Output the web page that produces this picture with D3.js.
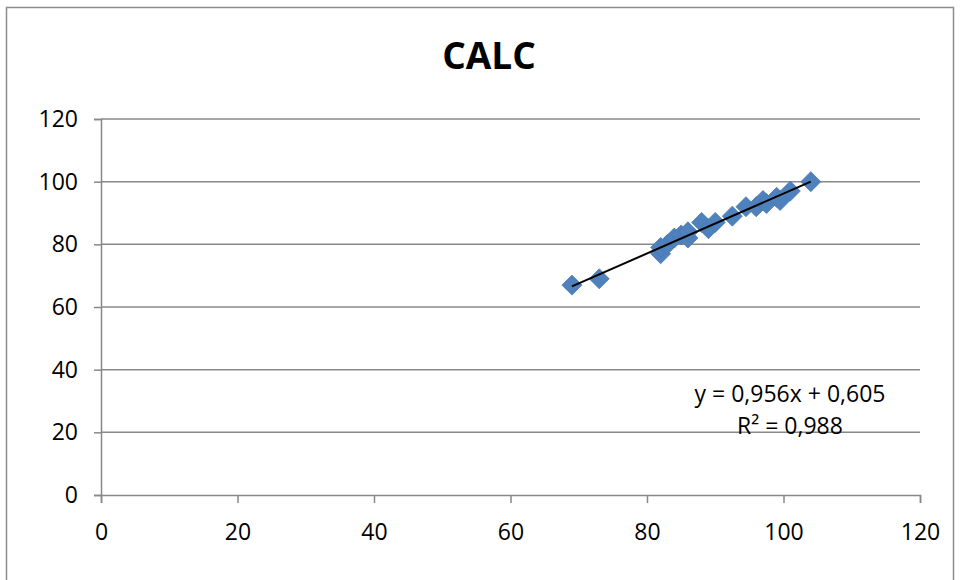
<!DOCTYPE html>
<html>
<head>
<meta charset="utf-8">
<script src="https://cdn.jsdelivr.net/npm/d3@7"></script>
<style>
  html, body { margin: 0; padding: 0; background: #fff; }
  svg { display: block; }
  text { font-family: "Open Sans", "Liberation Sans", sans-serif; fill: #000; }
</style>
</head>
<body>
<svg id="chart" width="960" height="580"></svg>
<script>
// ---- data ----
const chartTitle = "CALC";
const xValues = [69, 73, 82, 82, 83, 84, 85, 86, 86, 88, 89, 90, 92.5, 94.5, 96, 97, 97.5, 99, 99.5, 101, 104];
const yValues = [67, 69, 77, 79, 80, 82, 83, 82, 84, 87, 85, 87, 89, 92, 92, 94, 93, 95, 94, 97, 100];
const xTicks = [0, 20, 40, 60, 80, 100, 120];
const yTicks = [0, 20, 40, 60, 80, 100, 120];
const trendSlope = 0.956;
const trendIntercept = 0.605;
const trendRange = [69, 104];
const equationLines = ["y = 0,956x + 0,605", "R\u00B2 = 0,988"];

// ---- layout ----
const svg = d3.select("#chart");
const plotLeft = 101, plotRight = 920, plotTop = 119, plotBottom = 495;
const x = d3.scaleLinear().domain([0, 120]).range([plotLeft, plotRight]);
const y = d3.scaleLinear().domain([0, 120]).range([plotBottom, plotTop]);
const gridColor = "#888888";

// outer chart border
svg.append("rect")
  .attr("x", 6.5).attr("y", 7.5)
  .attr("width", 947).attr("height", 600)
  .attr("fill", "none").attr("stroke", "#8c8c8c").attr("stroke-width", 1.5);

// title
svg.append("text")
  .attr("x", 489).attr("y", 69)
  .attr("text-anchor", "middle")
  .style("font-size", "37px").style("font-weight", "bold")
  .text(chartTitle);

// gridlines
svg.append("g").selectAll("line")
  .data(yTicks.filter(d => d > 0))
  .join("line")
  .attr("x1", plotLeft).attr("x2", plotRight)
  .attr("y1", d => y(d)).attr("y2", d => y(d))
  .attr("stroke", gridColor).attr("stroke-width", 1.5);

// y axis
const yAxis = d3.axisLeft(y).tickValues(yTicks).tickSize(7).tickPadding(16).tickFormat(d3.format("d"));
const gy = svg.append("g").attr("transform", `translate(${plotLeft},0)`).call(yAxis);
gy.select(".domain").attr("stroke", gridColor).attr("stroke-width", 1.5);
gy.selectAll(".tick line").attr("stroke", gridColor).attr("stroke-width", 1.5);
gy.selectAll(".tick text").style("font-size", "23px").style("font-family", '"Open Sans", sans-serif').attr("fill", "#000");

// x axis
const xAxis = d3.axisBottom(x).tickValues(xTicks).tickSize(8).tickPadding(21).tickFormat(d3.format("d"));
const gx = svg.append("g").attr("transform", `translate(0,${plotBottom})`).call(xAxis);
gx.select(".domain").attr("stroke", gridColor).attr("stroke-width", 1.5);
gx.selectAll(".tick line").attr("stroke", gridColor).attr("stroke-width", 1.5);
gx.selectAll(".tick text").style("font-size", "23px").style("font-family", '"Open Sans", sans-serif').attr("fill", "#000");

// markers (diamonds)
const pts = xValues.map((v, i) => ({ x: v, y: yValues[i] }));
const h = 10;
svg.append("g").selectAll("path")
  .data(pts)
  .join("path")
  .attr("transform", d => `translate(${x(d.x)},${y(d.y)})`)
  .attr("d", `M0,${-h}L${h},0L0,${h}L${-h},0Z`)
  .attr("fill", "#4F81BD")
  .attr("stroke", "#4a7ab3").attr("stroke-width", 0.8);

// trend line
svg.append("line")
  .attr("x1", x(trendRange[0])).attr("y1", y(trendSlope * trendRange[0] + trendIntercept))
  .attr("x2", x(trendRange[1])).attr("y2", y(trendSlope * trendRange[1] + trendIntercept))
  .attr("stroke", "#000").attr("stroke-width", 2);

// equation label
svg.append("g").selectAll("text")
  .data(equationLines)
  .join("text")
  .attr("x", 790)
  .attr("y", (d, i) => 402 + i * 32)
  .attr("text-anchor", "middle")
  .style("font-size", "23px")
  .text(d => d);
</script>
</body>
</html>
